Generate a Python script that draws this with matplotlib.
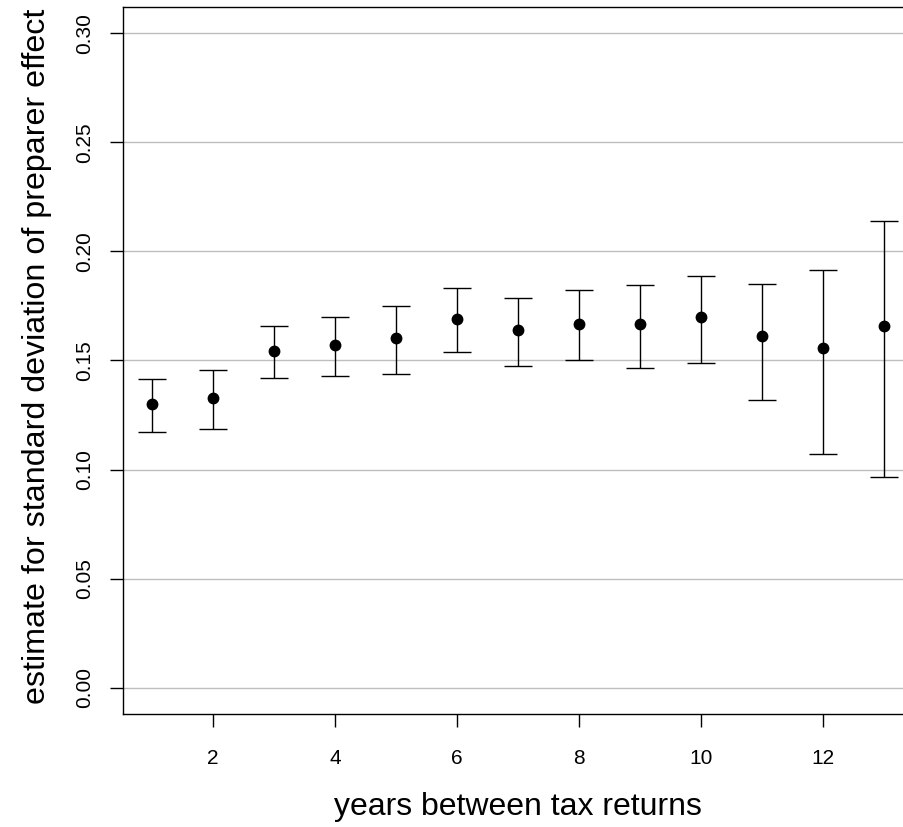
import numpy as np
import matplotlib.pyplot as plt

plt.rcParams['font.family'] = ['Liberation Sans', 'DejaVu Sans']

# estimates with lower/upper interval bounds, by years between returns
years = [1, 2, 3, 4, 5, 6, 7, 8, 9, 10, 11, 12, 13]
estimate = [0.130, 0.1328, 0.1543, 0.157, 0.1603, 0.169, 0.164, 0.1667, 0.1667, 0.170, 0.161, 0.1557, 0.166]
lower = [0.1172, 0.1186, 0.1419, 0.1429, 0.1438, 0.1538, 0.1474, 0.150, 0.1465, 0.1488, 0.1319, 0.1071, 0.0966]
upper = [0.1415, 0.1456, 0.1658, 0.170, 0.175, 0.183, 0.1786, 0.1822, 0.1845, 0.1886, 0.185, 0.1914, 0.2138]

yticks = [0.00, 0.05, 0.10, 0.15, 0.20, 0.25, 0.30]
xticks = [2, 4, 6, 8, 10, 12]

est = np.array(estimate)
yerr = np.vstack([est - np.array(lower), np.array(upper) - est])

fig = plt.figure(figsize=(9.04, 8.27), dpi=100)
ax = fig.add_axes([123 / 904, 113 / 827, 790 / 904, 707 / 827])

for t in yticks:
    ax.axhline(t, color='#bebebe', lw=1.0, zorder=0)

ax.errorbar(years, est, yerr=yerr, fmt='o', color='black', ms=7.5,
            elinewidth=1.0, capsize=10, capthick=1.0, zorder=3)

ax.set_xlim(0.52, 13.48)
ax.set_ylim(-0.012, 0.312)
ax.set_xticks(xticks)
ax.set_yticks(yticks)
ax.set_yticklabels([f'{t:.2f}' for t in yticks], rotation=90, va='center')
ax.tick_params(axis='both', direction='out', length=9.5, width=1.0, labelsize=15)
ax.tick_params(axis='x', pad=15.5)
ax.tick_params(axis='y', pad=11)

for side in ['left', 'bottom', 'top', 'right']:
    ax.spines[side].set_linewidth(1.0)

ax.set_xlabel('years between tax returns', fontsize=23, va='top')
ax.xaxis.set_label_coords(0.5, -0.11)
ax.set_ylabel('estimate for standard deviation of preparer effect', fontsize=23.2)
ax.yaxis.set_label_coords(-0.09, 0.506)

fig.savefig('out.png', dpi=100)
